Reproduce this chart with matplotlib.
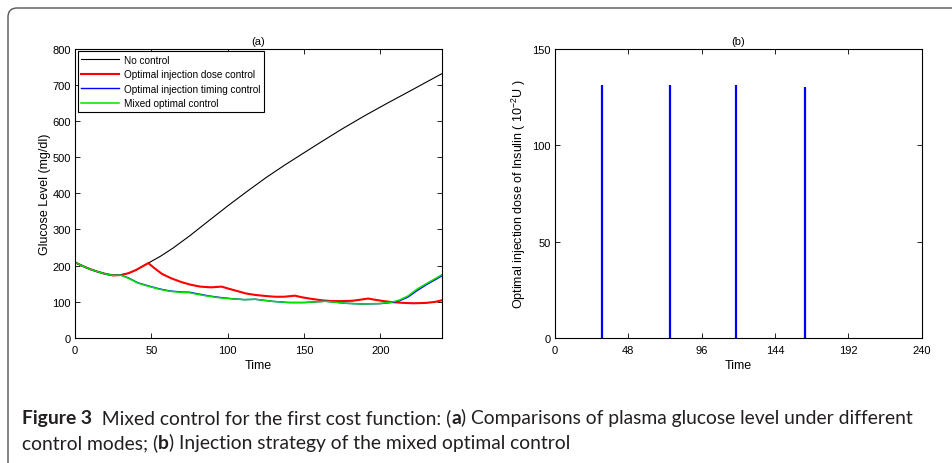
import numpy as np
import matplotlib.pyplot as plt
from matplotlib.patches import FancyBboxPatch

plt.rcParams['font.family'] = ['Liberation Sans', 'DejaVu Sans']
plt.rcParams['mathtext.fontset'] = 'custom'
plt.rcParams['mathtext.rm'] = 'Liberation Sans'
plt.rcParams['mathtext.it'] = 'Liberation Sans:italic'

# ---- panel (a) data ----
t_none = [0, 5, 10, 15, 20, 25, 30, 35, 40, 48, 56, 64, 75, 87, 100, 112, 125, 137, 150,
          162, 175, 190, 205, 220, 240]
g_none = [209, 199, 190, 183, 177, 173, 174, 179, 188, 207, 226, 248, 282, 322, 365, 403, 443, 477, 512,
          544, 578, 615, 650, 684, 730]

t_dose = [0, 5, 10, 15, 20, 25, 30, 35, 40, 48, 52, 57, 63, 70, 76, 82, 89, 96, 100, 106, 112,
          118, 125, 131, 137, 144, 148, 155, 162, 168, 175, 182, 192, 196, 202, 208, 215, 222,
          230, 236, 240]
g_dose = [209, 199, 190, 183, 177, 173, 174, 179, 188, 207, 193, 177, 165, 154, 147, 142, 140, 142, 137, 130, 123,
          119, 116, 114, 114, 117, 113, 108, 104, 102, 102, 103, 109, 106, 102, 99, 97, 96,
          97, 100, 104]

t_mix = [0, 5, 10, 15, 20, 25, 30, 35, 41, 48, 55, 62, 70, 75, 81, 88, 95, 103, 111, 118, 124,
         130, 140, 150, 158, 164, 170, 177, 188, 200, 207, 212, 218, 224, 230, 235, 240]
g_timing = [209, 199, 190, 183, 177, 173, 174, 166, 153, 144, 136, 130, 127, 126.5, 121.5, 116, 112, 108.5, 106, 107, 104,
            101, 98, 98, 100, 101.5, 99, 96, 94, 95, 98, 102, 113, 131, 147, 159, 171]
g_mixed = [209, 199, 190, 183, 177, 173, 174, 165, 152, 143, 135, 129, 126, 125, 120, 115, 111, 108, 106, 107, 104,
           101, 98, 98, 100, 101.5, 99, 96, 94, 95.5, 99, 104, 116, 135, 150, 162, 174]

# ---- panel (b) data ----
inj_time = [31, 75, 118.5, 164]
inj_dose = [131, 131, 131, 130]

fig = plt.figure(figsize=(9.53, 4.64), dpi=100)

# rounded frame of the figure box (open at right and bottom)
frame = FancyBboxPatch((0.08, -0.5), 10.0, 4.55 + 0.5, boxstyle='round,pad=0,rounding_size=0.09',
                       transform=fig.dpi_scale_trans, facecolor='none', edgecolor='#555555',
                       linewidth=1.0, clip_on=False)
fig.patches.append(frame)

fs = 8
lfs = 9

def matlab_axes(ax):
    ax.tick_params(direction='in', top=True, right=True, length=3.5, width=0.6, labelsize=fs)
    ax.tick_params(axis='x', pad=5)
    ax.tick_params(axis='y', pad=3)
    for s in ax.spines.values():
        s.set_linewidth(0.8)

ax1 = fig.add_axes([0.0787, 0.2694, 0.3846, 0.6239])
ax1.plot(t_none, g_none, color='black', lw=0.8, label='No control')
ax1.plot(t_dose, g_dose, color='#ff0000', lw=1.5, label='Optimal injection dose control')
ax1.plot(t_mix, g_timing, color='#0000ff', lw=1.0, label='Optimal injection timing control')
ax1.plot(t_mix, g_mixed, color='#00e000', lw=1.1, label='Mixed optimal control')
ax1.set_xlim(0, 240)
ax1.set_ylim(0, 800)
ax1.set_xticks([0, 50, 100, 150, 200])
ax1.set_yticks(range(0, 801, 100))
ax1.set_xlabel('Time', fontsize=lfs, labelpad=3)
ax1.set_ylabel('Glucose Level (mg/dl)', fontsize=lfs, labelpad=1)
ax1.set_title('(a)', fontsize=fs, pad=3)
matlab_axes(ax1)
leg = ax1.legend(loc='upper left', fontsize=7.2, frameon=True, fancybox=False, edgecolor='black',
                 framealpha=1, handlelength=3.8, handletextpad=0.5, borderpad=0.35, labelspacing=0.45,
                 borderaxespad=0.25)
leg.get_frame().set_linewidth(0.8)

ax2 = fig.add_axes([0.5824, 0.2694, 0.3846, 0.6239])
ax2.vlines(inj_time, 0, inj_dose, color='#0000ff', lw=1.6)
ax2.set_xlim(0, 240)
ax2.set_ylim(0, 150)
ax2.set_xticks(range(0, 241, 48))
ax2.set_yticks([0, 50, 100, 150])
ax2.set_xlabel('Time', fontsize=lfs, labelpad=3)
ax2.set_ylabel(r'Optimal injection dose of Insulin ( 10$^{-2}$U )', fontsize=lfs, labelpad=3)
ax2.set_title('(b)', fontsize=fs, pad=3)
matlab_axes(ax2)

# ---- caption with bold pieces ----
cap_font = 'Lato'
cap_size = 13.9
cap_col = '#231f20'
renderer = fig.canvas.get_renderer()

def caption_line(pieces, x_px, y_px):
    x = x_px
    for txt, bold in pieces:
        t = fig.text(x / 953, 1 - y_px / 464, txt, fontsize=cap_size, family=cap_font,
                     fontweight='bold' if bold else 'normal', color=cap_col, va='baseline', ha='left')
        bb = t.get_window_extent(renderer=renderer)
        x = bb.x1

caption_line([('Figure 3', True), ('  Mixed control for the first cost function: (', False), ('a', True),
              (') Comparisons of plasma glucose level under different', False)], 22, 424)
caption_line([('control modes; (', False), ('b', True),
              (') Injection strategy of the mixed optimal control', False)], 22, 449)

fig.savefig('out.png', dpi=100)
